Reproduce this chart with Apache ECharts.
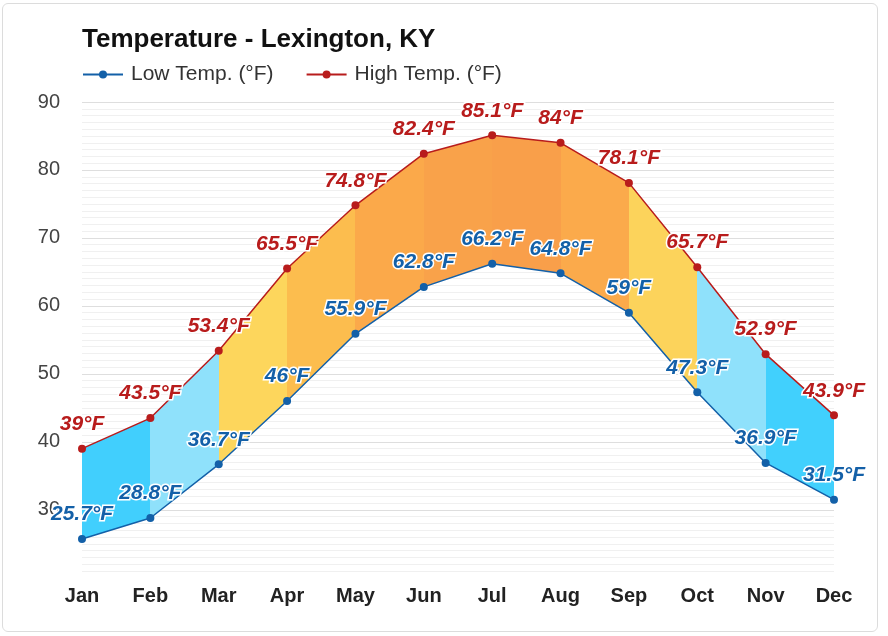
<!DOCTYPE html>
<html>
<head>
<meta charset="utf-8">
<script src="https://cdn.jsdelivr.net/npm/echarts@6/dist/echarts.min.js"></script>
<style>
  html, body { margin: 0; padding: 0; background: #fff; }
  #chart { position: absolute; left: 0; top: 0; width: 888px; height: 636px; }
  #frame { position: absolute; left: 2px; top: 3px; width: 876px; height: 629px; box-sizing: border-box;
           border: 1px solid #dcdcdc; border-radius: 6px; pointer-events: none; }
</style>
</head>
<body>
<div id="chart"></div>
<div id="frame"></div>
<script>
const months = ['Jan', 'Feb', 'Mar', 'Apr', 'May', 'Jun', 'Jul', 'Aug', 'Sep', 'Oct', 'Nov', 'Dec'];
const lowTemps = [25.7, 28.8, 36.7, 46, 55.9, 62.8, 66.2, 64.8, 59, 47.3, 36.9, 31.5];
const highTemps = [39, 43.5, 53.4, 65.5, 74.8, 82.4, 85.1, 84, 78.1, 65.7, 52.9, 43.9];
const bandColors = ['#41cffd', '#8fe1fb', '#fdd65c', '#fcbd4e', '#fba94a', '#f9a24a',
                    '#f99f4a', '#fbaa4b', '#fcd35b', '#8fe1fb', '#41d0fd'];
const yMin = 21, yMax = 90;

const bandDiff = highTemps.map((h, i) => +(h - lowTemps[i]).toFixed(2));
const pieces = bandColors.map((c, i) => (i < bandColors.length - 1
  ? { gte: i, lt: i + 1, color: c }
  : { gte: i, lte: i + 1, color: c }));

const gridColors = [];
for (let i = 0; i < 10; i++) gridColors.push(i === 9 ? '#dedede' : '#f0f0f0');

const FONT = '"Liberation Sans", Arial, Helvetica, sans-serif';

function labelCfg(color) {
  return {
    show: true,
    position: 'top',
    distance: 10,
    formatter: p => p.value + '°F',
    fontFamily: FONT,
    fontSize: 21,
    fontWeight: 'bold',
    fontStyle: 'italic',
    color: color,
    textBorderColor: '#fff',
    textBorderWidth: 3
  };
}

const chart = echarts.init(document.getElementById('chart'), null, { renderer: 'canvas' });
chart.setOption({
  animation: false,
  title: {
    text: 'Temperature - Lexington, KY',
    left: 77, top: 22,
    textStyle: { fontFamily: FONT, fontSize: 26, fontWeight: 'bold', color: '#111' }
  },
  legend: {
    data: ['Low Temp. (°F)', 'High Temp. (°F)'],
    left: 77, top: 59,
    itemWidth: 40, itemHeight: 10, itemGap: 32,
    textStyle: { fontFamily: FONT, fontSize: 21, color: '#333', padding: [0, 0, 0, 3] }
  },
  grid: { left: 82, right: 54, top: 102, bottom: 65, containLabel: false },
  xAxis: {
    type: 'category',
    data: months,
    boundaryGap: false,
    axisLine: { show: false },
    axisTick: { show: false },
    splitLine: { show: false },
    axisLabel: { fontFamily: FONT, fontSize: 20, fontWeight: 'bold', color: '#222', margin: 15 }
  },
  yAxis: {
    type: 'value',
    min: yMin, max: yMax, interval: 1,
    axisLine: { show: false },
    axisTick: { show: false },
    axisLabel: {
      fontFamily: FONT, fontSize: 20, color: '#444', margin: 22,
      formatter: v => (v % 10 === 0 ? String(v) : '')
    },
    splitLine: { show: true, lineStyle: { color: gridColors, width: 1 } }
  },
  visualMap: {
    type: 'piecewise', show: false, dimension: 0, seriesIndex: 1,
    pieces: pieces
  },
  series: [
    {
      name: 'base', type: 'line', stack: 'band', data: lowTemps,
      symbol: 'none', lineStyle: { opacity: 0 }, silent: true, z: 1
    },
    {
      name: 'band', type: 'line', stack: 'band', data: bandDiff,
      symbol: 'none', lineStyle: { opacity: 0, width: 0 }, areaStyle: { opacity: 1 },
      silent: true, z: 1
    },
    {
      name: 'Low Temp. (°F)', type: 'line', data: lowTemps, z: 3,
      color: '#1360a8',
      symbol: 'circle', symbolSize: 8,
      lineStyle: { width: 1.5, color: '#1360a8' },
      itemStyle: { color: '#1360a8' },
      label: labelCfg('#1360a8'),
      labelLine: { show: true, lineStyle: { color: '#aaa', width: 1 } }
    },
    {
      name: 'High Temp. (°F)', type: 'line', data: highTemps, z: 3,
      color: '#b81c1c',
      symbol: 'circle', symbolSize: 8,
      lineStyle: { width: 1.5, color: '#b81c1c' },
      itemStyle: { color: '#b81c1c' },
      label: labelCfg('#b81c1c'),
      labelLine: { show: true, lineStyle: { color: '#aaa', width: 1 } }
    }
  ]
});
</script>
</body>
</html>
